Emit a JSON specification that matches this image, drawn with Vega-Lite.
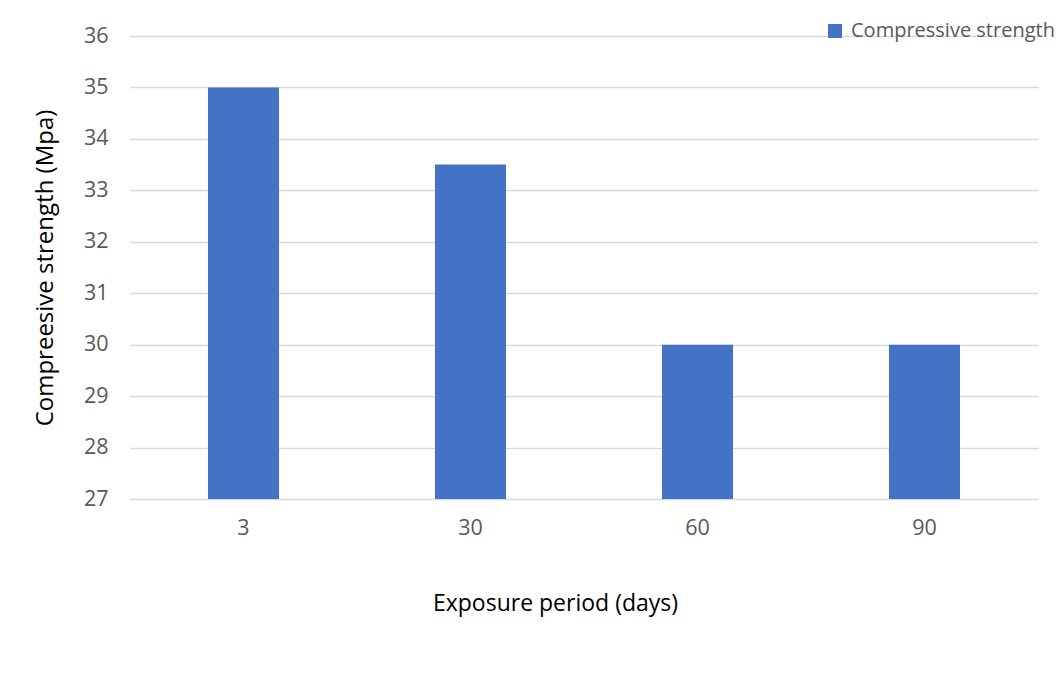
{
  "$schema": "https://vega.github.io/schema/vega-lite/v6.json",
  "width": 908,
  "height": 463,
  "autosize": {"type": "none"},
  "padding": {"left": 130, "top": 36, "right": 22, "bottom": 176},
  "background": "white",
  "config": {
    "view": {"stroke": null},
    "font": "Open Sans",
    "axis": {"labelFont": "Open Sans", "titleFont": "Open Sans"}
  },
  "data": {
    "values": [
      {"period": "3", "strength": 35, "series": "Compressive strength"},
      {"period": "30", "strength": 33.5, "series": "Compressive strength"},
      {"period": "60", "strength": 30, "series": "Compressive strength"},
      {"period": "90", "strength": 30, "series": "Compressive strength"}
    ]
  },
  "mark": {"type": "bar"},
  "encoding": {
    "x": {
      "field": "period",
      "type": "nominal",
      "sort": null,
      "scale": {"paddingInner": 0.687, "paddingOuter": 0.3435},
      "axis": {
        "title": "Exposure period (days)",
        "labelAngle": 0,
        "labelFontSize": 21.5,
        "labelColor": "#595959",
        "labelPadding": 18,
        "domain": false,
        "ticks": false,
        "titleFontSize": 23,
        "titleFontWeight": "normal",
        "titleColor": "#000000",
        "titleX": 425,
        "titleY": 104,
        "titleAlign": "center",
        "titleBaseline": "middle"
      }
    },
    "y": {
      "field": "strength",
      "type": "quantitative",
      "scale": {"domain": [27, 36], "nice": false, "zero": false},
      "axis": {
        "title": "Compreesive strength (Mpa)",
        "values": [27, 28, 29, 30, 31, 32, 33, 34, 35, 36],
        "labelFontSize": 21.5,
        "labelColor": "#595959",
        "labelPadding": 22,
        "domain": false,
        "ticks": false,
        "gridColor": "#d9d9d9",
        "gridWidth": 1.3,
        "titleFontSize": 24,
        "titleFontWeight": "normal",
        "titleColor": "#000000",
        "titlePadding": 26
      }
    },
    "y2": {"datum": 27},
    "color": {
      "field": "series",
      "type": "nominal",
      "scale": {"range": ["#4472C4"]},
      "legend": {
        "title": null,
        "orient": "none",
        "legendX": 695,
        "legendY": -15,
        "padding": 0,
        "symbolType": "square",
        "symbolSize": 196,
        "symbolStrokeWidth": 0,
        "symbolOpacity": 1,
        "labelFontSize": 20,
        "labelLimit": 0,
        "labelColor": "#595959",
        "labelOffset": 6
      }
    }
  }
}
